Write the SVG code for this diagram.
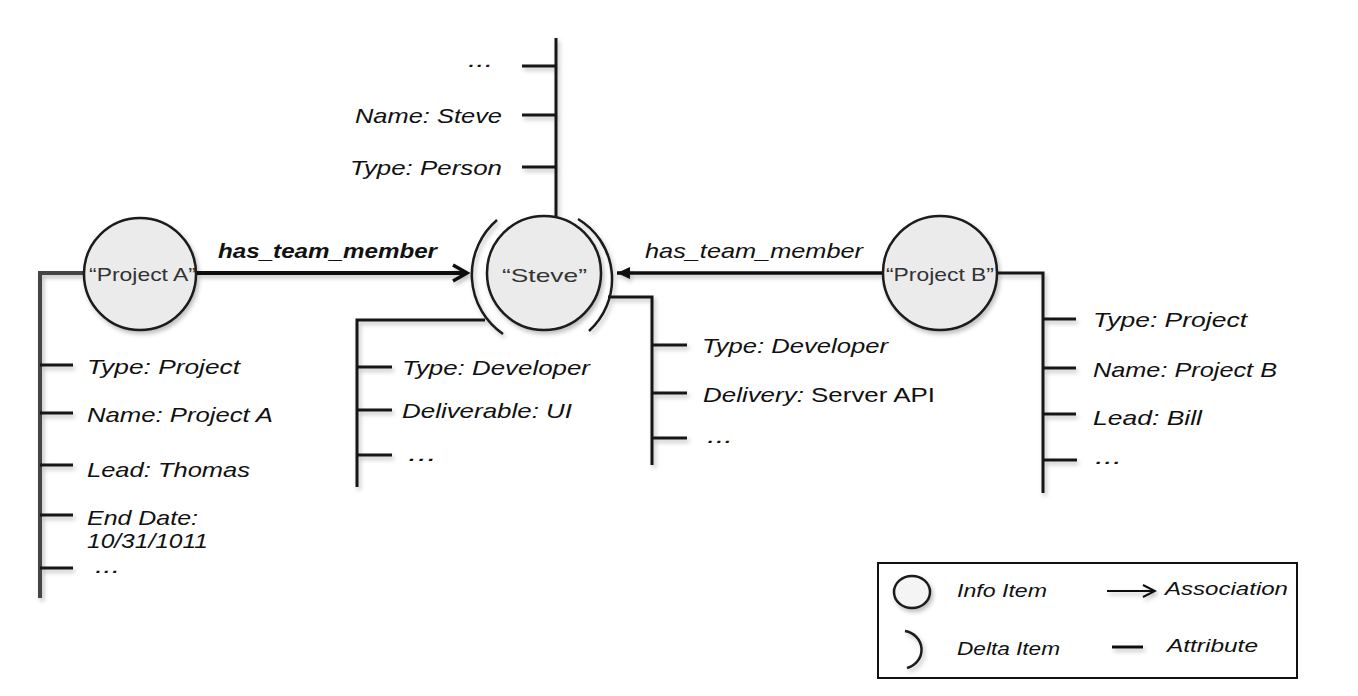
<svg xmlns="http://www.w3.org/2000/svg" width="1358" height="696" viewBox="0 0 1358 696">
<defs>
<filter id="sh" filterUnits="userSpaceOnUse" x="0" y="0" width="1358" height="696">
<feDropShadow dx="2" dy="3" stdDeviation="2" flood-color="#000" flood-opacity="0.25"/>
</filter>
<marker id="open" viewBox="0 0 20 20" refX="16" refY="10" markerWidth="20" markerHeight="20" markerUnits="userSpaceOnUse" orient="auto">
<path d="M2 2 L16 10 L2 18" fill="none" stroke="#111" stroke-width="3.5"/>
</marker>
<marker id="fill" viewBox="0 0 14 14" refX="13" refY="7" markerWidth="14" markerHeight="14" markerUnits="userSpaceOnUse" orient="auto">
<path d="M0 1 L13 7 L0 13 Z" fill="#111"/>
</marker>
<marker id="lopen" viewBox="0 0 16 16" refX="14" refY="8" markerWidth="16" markerHeight="16" markerUnits="userSpaceOnUse" orient="auto">
<path d="M2 2 L14 8 L2 14" fill="none" stroke="#111" stroke-width="2"/>
</marker>
</defs>
<style>
.node{fill:#ebebeb;stroke:#1a1a1a;stroke-width:2.5}
.delta{fill:none;stroke:#1a1a1a;stroke-width:2.5}
.ln{fill:none;stroke:#151515;stroke-width:3}
.lt{fill:none;stroke:#444;stroke-width:4}
.t{font-family:"Liberation Sans",Arial,sans-serif;font-size:21px;font-style:italic;fill:#111}
.c{font-family:"Liberation Sans",Arial,sans-serif;font-size:19px;fill:#333}
.lg{font-family:"Liberation Sans",Arial,sans-serif;font-size:18px;font-style:italic;fill:#111}
.up{font-style:normal}
</style>
<rect width="1358" height="696" fill="#fff"/>

<g id="connectors">
<g filter="url(#sh)">
<line x1="197" y1="273" x2="467" y2="273" stroke="#111" stroke-width="4" marker-end="url(#open)"/>
<line x1="883" y1="273" x2="617" y2="273" stroke="#111" stroke-width="3.5" marker-end="url(#fill)"/>
</g>
<text class="t" x="218" y="258" font-weight="bold" textLength="219" lengthAdjust="spacingAndGlyphs">has_team_member</text>
<text class="t" x="645" y="258" textLength="218" lengthAdjust="spacingAndGlyphs">has_team_member</text>
</g>

<g id="projectA">
<g filter="url(#sh)">
<path class="lt" d="M40 598 V273 H85"/>
<path class="ln" d="M40 365 H73 M40 413 H73 M40 465 H73 M40 515 H73 M40 568 H73"/>
<circle class="node" cx="140" cy="274" r="56"/>
</g>
<text class="c" x="89" y="281" textLength="107" lengthAdjust="spacingAndGlyphs">“Project A”</text>
<text class="t" x="87" y="374" textLength="153" lengthAdjust="spacingAndGlyphs">Type: Project</text>
<text class="t" x="87" y="422" textLength="186" lengthAdjust="spacingAndGlyphs">Name: Project A</text>
<text class="t" x="87" y="477" textLength="163" lengthAdjust="spacingAndGlyphs">Lead: Thomas</text>
<text class="t" x="87" y="525" textLength="111" lengthAdjust="spacingAndGlyphs">End Date:</text>
<text class="t" x="87" y="548" textLength="121" lengthAdjust="spacingAndGlyphs">10/31/1011</text>
<text class="t" x="95" y="573" font-size="14" textLength="25" lengthAdjust="spacingAndGlyphs">...</text>
</g>

<g id="steve">
<g filter="url(#sh)">
<path class="ln" d="M556 38 V217 M522 66 H556 M522 115 H556 M522 167 H556"/>
<path class="ln" d="M485 320 H357 V487 M357 367 H392 M357 410 H392 M357 455 H392"/>
<path class="ln" d="M608 297 H652 V465 M652 345 H687 M652 393 H687 M652 438 H687"/>
<circle class="node" cx="544" cy="273" r="57"/>
<path class="delta" d="M497 220 A72 72 0 0 0 503 334"/>
<path class="delta" d="M578 219 A70 70 0 0 1 589 331"/>
</g>
<text class="c" x="502" y="282" textLength="85" lengthAdjust="spacingAndGlyphs" font-size="22">“Steve”</text>
<text class="t" x="468" y="67" textLength="25" lengthAdjust="spacingAndGlyphs">...</text>
<text class="t" x="355" y="123" textLength="147" lengthAdjust="spacingAndGlyphs">Name: Steve</text>
<text class="t" x="350" y="175" textLength="152" lengthAdjust="spacingAndGlyphs">Type: Person</text>
<text class="t" x="402" y="375" textLength="188" lengthAdjust="spacingAndGlyphs">Type: Developer</text>
<text class="t" x="402" y="418" textLength="170" lengthAdjust="spacingAndGlyphs">Deliverable: UI</text>
<text class="t" x="408" y="461" textLength="29" lengthAdjust="spacingAndGlyphs">...</text>
<text class="t" x="702" y="353" textLength="186" lengthAdjust="spacingAndGlyphs">Type: Developer</text>
<text class="t" x="703" y="402" textLength="232" lengthAdjust="spacingAndGlyphs">Delivery: <tspan class="up">Server API</tspan></text>
<text class="t" x="707" y="443" textLength="26" lengthAdjust="spacingAndGlyphs">...</text>
</g>

<g id="projectB">
<g filter="url(#sh)">
<path class="ln" d="M997 273 H1043 V493"/>
<path class="ln" d="M1043 319 H1076 M1043 368 H1076 M1043 414 H1076 M1043 460 H1077"/>
<circle class="node" cx="940" cy="273" r="57"/>
</g>
<text class="c" x="886" y="281" textLength="108" lengthAdjust="spacingAndGlyphs">“Project B”</text>
<text class="t" x="1093" y="327" textLength="154" lengthAdjust="spacingAndGlyphs">Type: Project</text>
<text class="t" x="1093" y="377" textLength="184" lengthAdjust="spacingAndGlyphs">Name: Project B</text>
<text class="t" x="1093" y="425" textLength="109" lengthAdjust="spacingAndGlyphs">Lead: Bill</text>
<text class="t" x="1095" y="464" textLength="27" lengthAdjust="spacingAndGlyphs">...</text>
</g>

<g id="legend">
<rect x="878" y="563" width="419" height="115" fill="#fff" stroke="#111" stroke-width="2"/>
<g filter="url(#sh)">
<ellipse class="node" cx="912" cy="592" rx="18" ry="16" style="fill:#f4f4f4"/>
<path class="delta" d="M905 631 A20 19 0 0 1 907 668"/>
<line x1="1107" y1="591" x2="1155" y2="591" stroke="#111" stroke-width="2" marker-end="url(#lopen)"/>
<line x1="1112" y1="647" x2="1143" y2="647" stroke="#111" stroke-width="3"/>
</g>
<text class="lg" x="957" y="597" textLength="90" lengthAdjust="spacingAndGlyphs">Info Item</text>
<text class="lg" x="957" y="655" textLength="103" lengthAdjust="spacingAndGlyphs">Delta Item</text>
<text class="lg" x="1165" y="595" textLength="123" lengthAdjust="spacingAndGlyphs">Association</text>
<text class="lg" x="1167" y="652" textLength="91" lengthAdjust="spacingAndGlyphs">Attribute</text>
</g>
</svg>
